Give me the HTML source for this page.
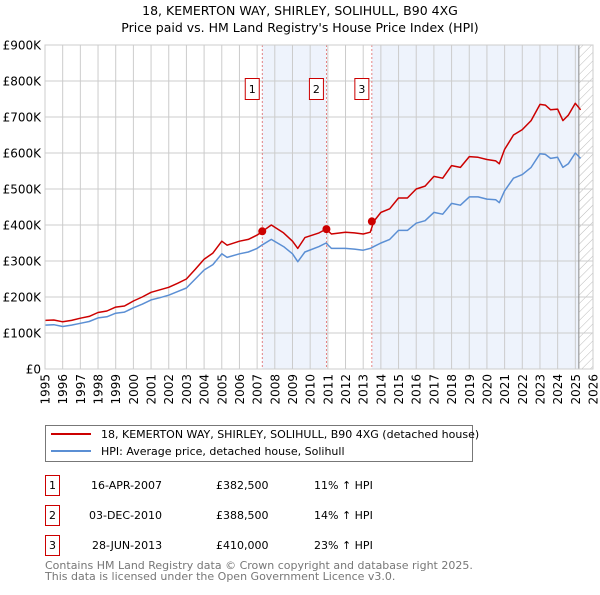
<!DOCTYPE html>
<html><head><meta charset="utf-8"><style>
body{margin:0;background:#fff;font-family:"Liberation Sans","DejaVu Sans",sans-serif;}
svg text{font-family:"DejaVu Sans","Liberation Sans",sans-serif;}
</style></head><body>
<svg id="c" width="600" height="590" xmlns="http://www.w3.org/2000/svg">
<text x="300" y="15" text-anchor="middle" font-size="12.5">18, KEMERTON WAY, SHIRLEY, SOLIHULL, B90 4XG</text>
<text x="300" y="32" text-anchor="middle" font-size="12.5">Price paid vs. HM Land Registry's House Price Index (HPI)</text>
<defs><pattern id="hatch" width="6" height="6" patternUnits="userSpaceOnUse" patternTransform="rotate(45)"><line x1="0" y1="0" x2="0" y2="6" stroke="#bbb" stroke-width="1"/></pattern></defs>
<g id="plot"></g>
<g>
<rect x="45.5" y="425.5" width="427" height="36" fill="#fff" stroke="#777"/>
<line x1="51" y1="434" x2="91" y2="434" stroke="#cc0000" stroke-width="2"/>
<text x="101" y="438" font-size="11">18, KEMERTON WAY, SHIRLEY, SOLIHULL, B90 4XG (detached house)</text>
<line x1="51" y1="451" x2="91" y2="451" stroke="#5b8fd4" stroke-width="2"/>
<text x="101" y="455" font-size="11">HPI: Average price, detached house, Solihull</text>
</g>
<g font-size="11">
<rect x="45.5" y="475.5" width="14" height="20" fill="#fff" stroke="#cc0000"/><text x="52.5" y="489" text-anchor="middle">1</text>
<text x="91" y="489">16-APR-2007</text><text x="216" y="489">£382,500</text><text x="314" y="489">11% ↑ HPI</text>
<rect x="45.5" y="505.5" width="14" height="20" fill="#fff" stroke="#cc0000"/><text x="52.5" y="519" text-anchor="middle">2</text>
<text x="89" y="519">03-DEC-2010</text><text x="216" y="519">£388,500</text><text x="314" y="519">14% ↑ HPI</text>
<rect x="45.5" y="535.5" width="14" height="20" fill="#fff" stroke="#cc0000"/><text x="52.5" y="549" text-anchor="middle">3</text>
<text x="92" y="549">28-JUN-2013</text><text x="216" y="549">£410,000</text><text x="314" y="549">23% ↑ HPI</text>
</g>
<text x="45" y="569" font-size="11" fill="#777">Contains HM Land Registry data © Crown copyright and database right 2025.</text>
<text x="45" y="580" font-size="11" fill="#777">This data is licensed under the Open Government Licence v3.0.</text>
</svg>
<script>
const times=[1995,1995.5,1996,1996.5,1997,1997.5,1998,1998.5,1999,1999.5,2000,2000.5,2001,2001.5,2002,2002.5,2003,2003.5,2004,2004.5,2005,2005.3,2006,2006.5,2007,2007.3,2007.8,2008.5,2009,2009.3,2009.7,2010.5,2010.9,2011.2,2012,2012.5,2013,2013.4,2013.6,2014,2014.5,2015,2015.5,2016,2016.5,2017,2017.5,2018,2018.5,2019,2019.5,2020,2020.5,2020.7,2021,2021.5,2022,2022.5,2023,2023.3,2023.6,2024,2024.3,2024.6,2025,2025.3];
const hpiValues=[122,123,118,122,127,132,142,145,155,158,170,180,192,198,205,215,225,250,275,290,320,310,320,325,335,345,360,340,320,298,325,340,350,335,335,333,330,335,340,350,360,385,385,405,412,435,430,460,455,478,478,472,470,462,495,530,540,560,598,596,585,588,560,570,600,585];
const priceValues=[135,136,131,135,141,146,157,161,172,175,189,200,213,220,227,238,250,277,305,322,355,344,355,360,372,382.5,400,378,355,335,365,378,388.5,375,380,378,375,380,410,435,445,475,475,500,508,535,530,565,560,590,588,582,578,570,610,650,665,690,735,733,720,722,690,705,738,720];
const saleTimes=[2007.29,2010.92,2013.49];
const salePrices=[382.5,388.5,410];
const saleLabels=["1","2","3"];
const yTicks=[0,100,200,300,400,500,600,700,800,900];
const yTickLabels=["£0","£100K","£200K","£300K","£400K","£500K","£600K","£700K","£800K","£900K"];
const xYears=[];for(let y=1995;y<=2026;y++)xYears.push(y);

const X0=45,X1=593,Y0=369,Y1=45;
const xs=t=>X0+(t-1995)/(2026-1995)*(X1-X0);
const ys=v=>Y0-v/900*(Y0-Y1);
const NS="http://www.w3.org/2000/svg";
const g=document.getElementById('plot');
function mk(tag,attrs){const e=document.createElementNS(NS,tag);for(const k in attrs)e.setAttribute(k,attrs[k]);g.appendChild(e);return e;}

let r=mk('rect',{x:xs(saleTimes[0]),y:Y1,width:xs(saleTimes[1])-xs(saleTimes[0]),height:Y0-Y1,fill:'#eef3fc'});


r=mk('rect',{x:xs(saleTimes[2]),y:Y1,width:xs(2025.2)-xs(saleTimes[2]),height:Y0-Y1,fill:'#eef3fc'});


r=mk('rect',{x:xs(2025.2),y:Y1,width:X1-xs(2025.2),height:Y0-Y1,fill:'url(#hatch)'});



yTicks.forEach((v,i)=>{
 const l=mk('line',{x1:X0,x2:X1,y1:ys(v),y2:ys(v),stroke:'#ccc','stroke-width':1});
 
 
 const t=mk('text',{x:X0-4,y:ys(v)+4.5,'text-anchor':'end','font-size':12});
 t.textContent=yTickLabels[i];
 
 
});
xYears.forEach(y=>{
 const l=mk('line',{x1:xs(y),x2:xs(y),y1:Y1,y2:Y0,stroke:'#ccc','stroke-width':1});
 
 
 const t=mk('text',{x:0,y:0,'text-anchor':'end','font-size':12,transform:`translate(${xs(y)+4.5},${Y0+5}) rotate(-90)`});
 t.textContent=y;
 
 
});
let ax=mk('line',{x1:xs(2025.2),x2:xs(2025.2),y1:Y1,y2:Y0,stroke:'#888','stroke-width':1});



saleTimes.forEach((t,i)=>{
 const l=mk('line',{x1:xs(t),x2:xs(t),y1:Y1,y2:Y0,stroke:'#e06666','stroke-width':0.8,'stroke-dasharray':'2,2'});
 
 
});

function path(vals,color,name){
 const d=vals.map((v,i)=>(i?'L':'M')+xs(times[i]).toFixed(1)+','+ys(v).toFixed(1)).join('');
 const p=mk('path',{d:d,fill:'none',stroke:color,'stroke-width':1.5,'stroke-linejoin':'round'});
 
 
}
path(hpiValues,'#5b8fd4','hpi-line');
path(priceValues,'#cc0000','price-line');

saleTimes.forEach((t,i)=>{
 const c=mk('circle',{cx:xs(t),cy:ys(salePrices[i]),r:4,fill:'#cc0000'});
 
 
 const bx=xs(t)-10;
 const b=mk('rect',{x:bx-7,y:78.5,width:14,height:21,fill:'#fff',stroke:'#cc0000'});
 
 
 const tx=mk('text',{x:bx,y:93,'text-anchor':'middle','font-size':11});
 tx.textContent=saleLabels[i];
 
 
});
let bd=mk('rect',{x:X0,y:Y1,width:X1-X0,height:Y0-Y1,fill:'none',stroke:'#ccc'});


</script>
</body></html>
